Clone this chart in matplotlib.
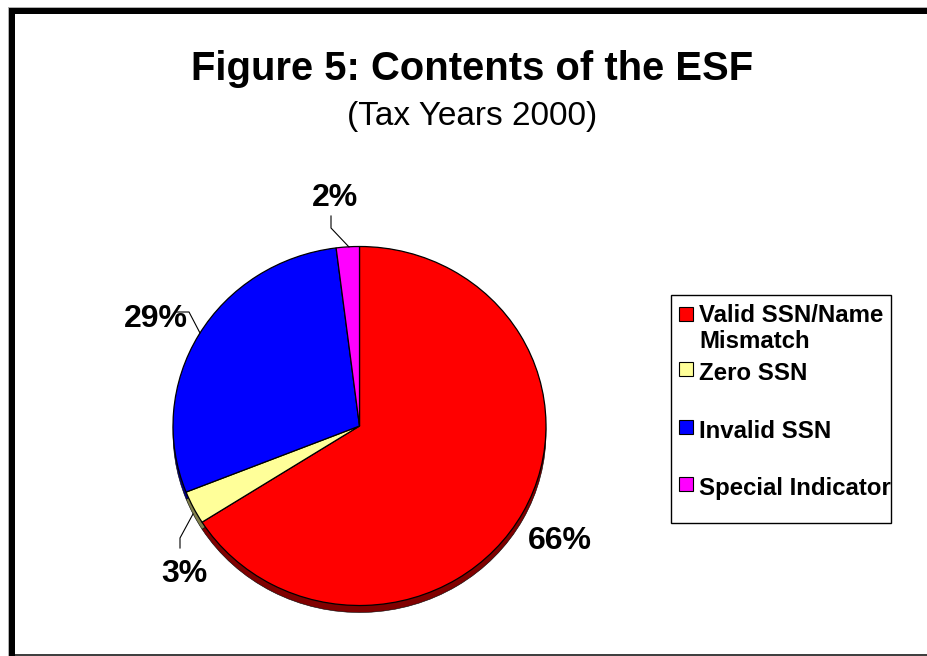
import matplotlib
matplotlib.use('Agg')
import matplotlib.pyplot as plt
from matplotlib.patches import Rectangle

plt.rcParams['font.family'] = ['Liberation Sans', 'DejaVu Sans']

categories = ['Valid SSN/Name\nMismatch', 'Zero SSN', 'Invalid SSN', 'Special Indicator']
shares = [66, 3, 29, 2]
colors = ['#ff0000', '#ffff99', '#0000ff', '#ff00ff']
rim_colors = ['#800000', '#80804c', '#000080', '#800080']

W, H = 928, 656
fig = plt.figure(figsize=(W / 100, H / 100), dpi=100, facecolor='white')


def pie_axes(cx, cy, rx, ry):
    # the pie fills the axes, so the axes box sets the tilted ellipse
    return fig.add_axes([(cx - rx) / W, 1 - (cy + ry) / H, 2 * rx / W, 2 * ry / H])


def draw_pie(ax, cols, lw):
    ax.pie(shares, colors=cols, startangle=90, counterclock=False, radius=1,
           wedgeprops={'edgecolor': 'black', 'linewidth': lw})
    ax.set_aspect('auto')
    ax.set_xlim(-1, 1)
    ax.set_ylim(-1, 1)
    for p in ax.patches:
        p.set_clip_on(False)


# darker copy a few pixels lower makes the rim of the disc
draw_pie(pie_axes(359.5, 433, 186.5, 179.5), rim_colors, 0.4)
draw_pie(pie_axes(359.5, 426, 186.5, 179.5), colors, 0.9)

# overlay in pixel coordinates for frame, text, leaders and legend
ov = fig.add_axes([0, 0, 1, 1], facecolor='none')
ov.set_xlim(0, W)
ov.set_ylim(H, 0)
ov.axis('off')

# frame is open on the right, thin along the bottom
ov.add_patch(Rectangle((8, 7), W - 8, 7, fc='#b0b0b0', ec='none'))
ov.add_patch(Rectangle((8, 7), 7, H - 7, fc='#b0b0b0', ec='none'))
ov.add_patch(Rectangle((9, 8), W - 9, 6, fc='black', ec='none'))
ov.add_patch(Rectangle((9, 8), 6, H - 8, fc='black', ec='none'))
ov.add_patch(Rectangle((15, 654), W - 15, 2, fc='#404040', ec='none'))

ov.text(472, 69, 'Figure 5: Contents of the ESF', ha='center', va='center',
        fontsize=28.8, fontweight='bold', color='black')
ov.text(472, 117, '(Tax Years 2000)', ha='center', va='center', fontsize=24, color='black')

# slice labels
labels = [str(s) + '%' for s in shares]
label_pos = [(560, 541), (184, 574), (156, 319), (335, 198)]
for txt, (x, y) in zip(labels, label_pos):
    ov.text(x, y, txt, ha='center', va='center', fontsize=23, fontweight='bold', color='black')

leaders = [
    ([193, 180, 180], [514, 538, 548]),
    ([200, 189, 176], [333, 312, 312]),
    ([349, 331, 331], [247, 228, 216]),
]
for xs, ys in leaders:
    ov.plot(xs, ys, color='black', lw=0.8)

# legend box
ov.add_patch(Rectangle((671, 295), 220, 228, fc='white', ec='black', lw=1))
swatch_y = [314, 369, 427, 484]
text_y = [316, 374, 431, 488]
for name, col, y, ty in zip(categories, colors, swatch_y, text_y):
    ov.add_patch(Rectangle((679, y - 7), 14, 14, fc=col, ec='black', lw=0.8))
    lines = name.split('\n')
    ov.text(699, ty, lines[0], ha='left', va='center', fontsize=17.3, fontweight='bold', color='black')
    if len(lines) > 1:
        ov.text(699, ty + 25, lines[1], ha='left', va='center', fontsize=17.3, fontweight='bold', color='black')

fig.savefig('out.png', dpi=100)
